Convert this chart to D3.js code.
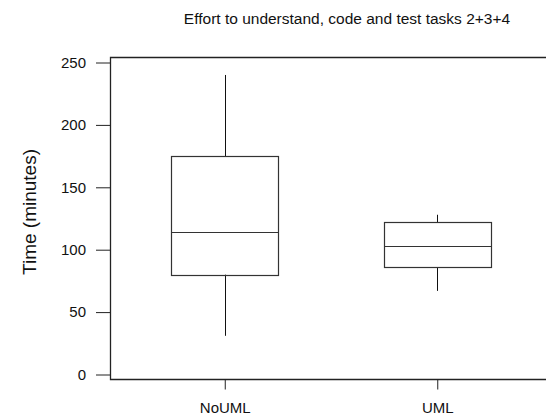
<!DOCTYPE html>
<html lang="en">
<head>
  <meta charset="UTF-8">
  <title>Effort boxplot</title>
  <style>
    body { margin: 0; background: #fff; }
    svg { display: block; font-family: Arial, "Liberation Sans", sans-serif; }
  </style>
  <script src="https://d3js.org/d3.v7.min.js"></script>
</head>
<body>
  <svg width="546" height="416"></svg>

  <script>
    // dati (minuti)
    var groups = ["NoUML", "UML"];
    var whiskerLow = [31, 67];
    var q1 = [80, 86];
    var median = [114, 103];
    var q3 = [175, 122];
    var whiskerHigh = [240, 128];
    var yTicks = [0, 50, 100, 150, 200, 250];

    var svg = d3.select("svg");

    // area del grafico (attenzione: "top" è riservato in window)
    var plotLeft = 110, plotTop = 57, plotBottom = 379, plotRight = 546;

    var y = d3.scaleLinear().domain([0, 250]).range([374.5, 62.5]);
    var x = d3.scalePoint().domain(groups).range([110, 552]).padding(0.54);
    var boxW = 107;

    // titolo
    svg.append("text")
      .attr("x", 347).attr("y", 24)
      .attr("text-anchor", "middle")
      .attr("font-size", 15.5)
      .attr("fill", "#111")
      .text("Effort to understand, code and test tasks 2+3+4");

    // cornice (sopra, sinistra, sotto)
    svg.append("path")
      .attr("d", "M" + plotRight + "," + (plotTop + 0.5) + "H" + (plotLeft + 0.5) +
                 "V" + (plotBottom + 0.5) + "H" + plotRight)
      .attr("fill", "none").attr("stroke", "#222").attr("stroke-width", 1.3);

    // asse y
    var yAxis = svg.append("g")
      .attr("transform", "translate(" + plotLeft + ",0)")
      .call(d3.axisLeft(y).tickValues(yTicks).tickSize(14).tickPadding(10).tickSizeOuter(0));
    yAxis.select(".domain").remove();
    yAxis.selectAll("line").attr("stroke", "#222");
    yAxis.selectAll("text").attr("font-size", 15).attr("fill", "#111").attr("font-family", null);

    // asse x
    var xAxis = svg.append("g")
      .attr("transform", "translate(0," + (plotBottom + 0.5) + ")")
      .call(d3.axisBottom(x).tickSize(10).tickPadding(13).tickSizeOuter(0));
    xAxis.select(".domain").remove();
    xAxis.selectAll("line").attr("stroke", "#222");
    xAxis.selectAll("text").attr("font-size", 15).attr("fill", "#111").attr("font-family", null);

    // etichetta asse y
    svg.append("text")
      .attr("transform", "translate(36,212) rotate(-90)")
      .attr("text-anchor", "middle")
      .attr("font-size", 19)
      .attr("fill", "#111")
      .text("Time (minutes)");

    // box e baffi
    var box = svg.selectAll(".box")
      .data(groups)
      .enter().append("g")
      .attr("class", "box");

    box.append("line")
      .attr("x1", function(d) { return Math.round(x(d)) + 0.5; })
      .attr("x2", function(d) { return Math.round(x(d)) + 0.5; })
      .attr("y1", function(d, i) { return y(whiskerHigh[i]); })
      .attr("y2", function(d, i) { return y(q3[i]); })
      .attr("stroke", "#111");

    box.append("line")
      .attr("x1", function(d) { return Math.round(x(d)) + 0.5; })
      .attr("x2", function(d) { return Math.round(x(d)) + 0.5; })
      .attr("y1", function(d, i) { return y(q1[i]); })
      .attr("y2", function(d, i) { return y(whiskerLow[i]); })
      .attr("stroke", "#111");

    box.append("rect")
      .attr("x", function(d) { return Math.round(x(d) - boxW / 2) + 0.5; })
      .attr("y", function(d, i) { return Math.round(y(q3[i])) + 0.5; })
      .attr("width", boxW)
      .attr("height", function(d, i) { return Math.round(y(q1[i])) - Math.round(y(q3[i])); })
      .attr("fill", "none")
      .attr("stroke", "#333")
      .attr("stroke-width", 1.2);

    box.append("line")
      .attr("x1", function(d) { return Math.round(x(d) - boxW / 2) + 0.5; })
      .attr("x2", function(d) { return Math.round(x(d) + boxW / 2) + 0.5; })
      .attr("y1", function(d, i) { return Math.round(y(median[i])) + 0.5; })
      .attr("y2", function(d, i) { return Math.round(y(median[i])) + 0.5; })
      .attr("stroke", "#333")
      .attr("stroke-width", 1.2);
  </script>
</body>
</html>
